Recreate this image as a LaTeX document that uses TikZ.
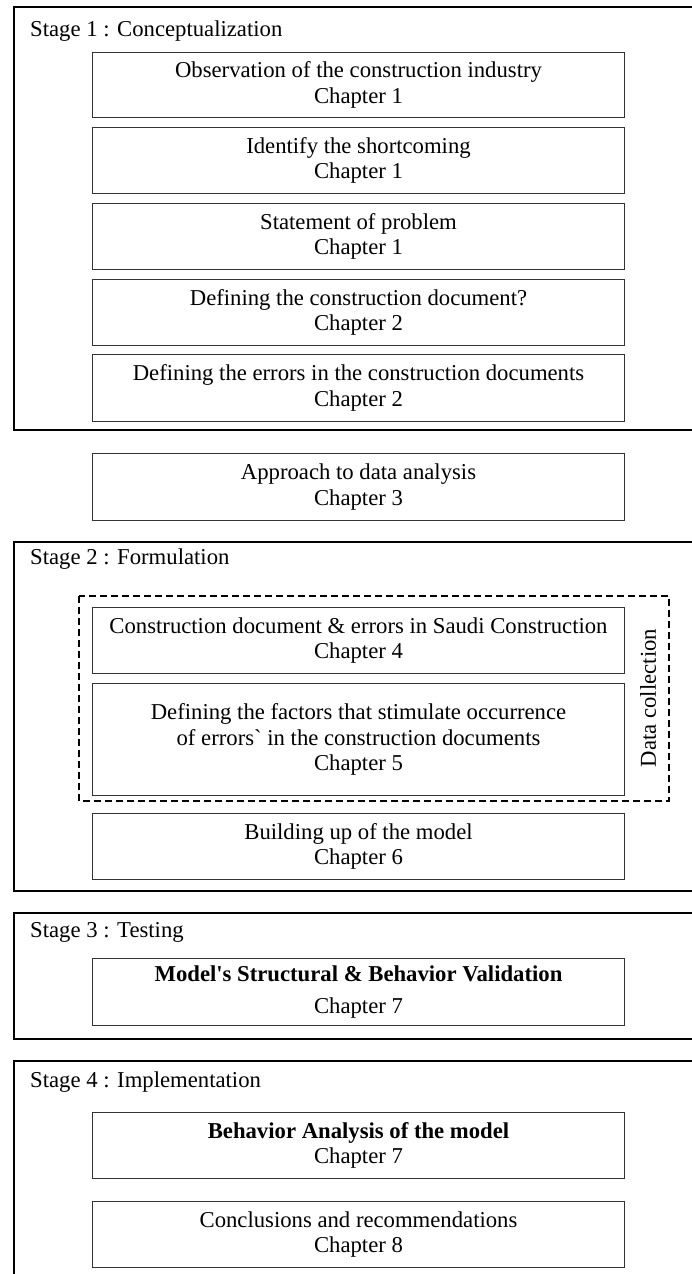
\documentclass[tikz,border=0pt]{standalone}
\usepackage{fontspec}
\setmainfont{Liberation Serif}
\begin{document}
\begin{tikzpicture}[x=1pt,y=-1pt,
  every node/.style={font=\fontsize{22.7}{25.5}\selectfont},
  stageframe/.style={draw=black,line width=2.2pt},
  stagelabel/.style={anchor=base west,inner sep=0pt},
  chapbox/.style={draw=black!80,line width=1pt,anchor=north west,
    minimum width=532pt,align=center,inner sep=0pt},
  groupframe/.style={draw=black,line width=1.4pt,dash pattern=on 7pt off 4pt}]
\useasboundingbox (0,0) rectangle (691,1274);
\fill[white] (0,0) rectangle (691,1274);

% Stage frames (open to the right / bottom)
\draw[stageframe] (14,7) rectangle (740,430);
\draw[stageframe] (14,542) rectangle (740,891);
\draw[stageframe] (14,913) rectangle (740,1039);
\draw[stageframe] (14,1061) rectangle (740,1300);

% Stage 1
\node[stagelabel] (s1) at (30,36) {Stage 1 : Conceptualization};
\node[chapbox,minimum height=65pt] (b1) at (92,52) {Observation of the construction industry\\Chapter 1};
\node[chapbox,minimum height=66pt] (b2) at (92,127) {Identify the shortcoming\\Chapter 1};
\node[chapbox,minimum height=66pt] (b3) at (92,203) {Statement of problem\\Chapter 1};
\node[chapbox,minimum height=66pt] (b4) at (92,279) {Defining the construction document?\\Chapter 2};
\node[chapbox,minimum height=67pt] (b5) at (92,354) {Defining the errors in the construction documents\\Chapter 2};

% Between stages
\node[chapbox,minimum height=67pt] (b6) at (92,453) {Approach to data analysis\\Chapter 3};

% Stage 2
\node[stagelabel] (s2) at (30,564) {Stage 2 : Formulation};
\draw[groupframe] (79,596) rectangle (669,801);
\node[chapbox,minimum height=66pt] (b7) at (92,607) {Construction document \& errors in Saudi Construction\\Chapter 4};
\node[chapbox,minimum height=112pt] (b8) at (92,683) {Defining the factors that stimulate occurrence\\of errors\textasciigrave{} in the construction documents\\Chapter 5};
\node[rotate=90,inner sep=0pt] (dc) at (648,698) {Data collection};
\node[chapbox,minimum height=66pt] (b9) at (92,813) {Building up of the model\\Chapter 6};

% Stage 3
\node[stagelabel] (s3) at (30,937) {Stage 3 : Testing};
\node[chapbox,minimum height=67pt] (b10) at (92,958) {\textbf{Model\textquotesingle s Structural \& Behavior Validation}\\[7pt]Chapter 7};

% Stage 4
\node[stagelabel] (s4) at (30,1087) {Stage 4 : Implementation};
\node[chapbox,minimum height=66pt] (b11) at (92,1112) {\textbf{Behavior Analysis of the model}\\Chapter 7};
\node[chapbox,minimum height=66pt] (b12) at (92,1201) {Conclusions and recommendations\\Chapter 8};
\end{tikzpicture}
\end{document}
